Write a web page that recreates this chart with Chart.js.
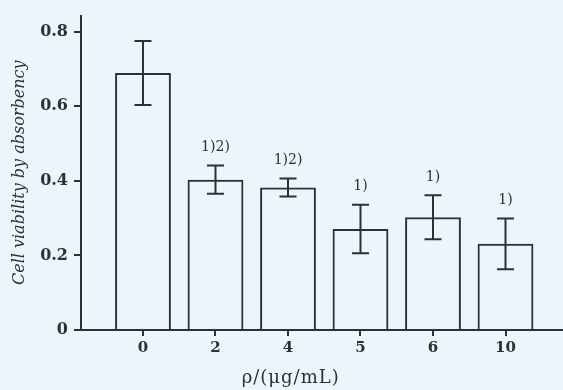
<!DOCTYPE html>
<html>
<head>
<meta charset="utf-8">
<script src="https://cdn.jsdelivr.net/npm/chart.js@4/dist/chart.umd.min.js"></script>
<style>
html,body{margin:0;padding:0;background:#edf5fa;}
#wrap{width:563px;height:390px;}
</style>
</head>
<body>
<div id="wrap"><canvas id="c" width="563" height="390"></canvas></div>
<script>
const categories = ["0", "2", "4", "5", "6", "10"];
const viability = [0.689, 0.403, 0.382, 0.271, 0.302, 0.231];
const errorSD = [0.086, 0.038, 0.024, 0.065, 0.059, 0.068];
const sigLabels = ["", "1)2)", "1)2)", "1)", "1)", "1)"];
const yTicks = [0, 0.2, 0.4, 0.6, 0.8];
const yTitle = "Cell viability by absorbency";
const xTitle = "ρ/(μg/mL)";

const ink = "#27323b";
const serif = "'DejaVu Serif', 'Liberation Serif', serif";

const bgPlugin = {
  id: 'bg',
  beforeDraw(chart) {
    const ctx = chart.ctx;
    ctx.save();
    ctx.fillStyle = '#edf5fa';
    ctx.fillRect(0, 0, chart.width, chart.height);
    ctx.restore();
  }
};

const errPlugin = {
  id: 'err',
  afterDatasetsDraw(chart) {
    const ctx = chart.ctx;
    const xs = chart.scales.x, ys = chart.scales.y;
    ctx.save();
    ctx.strokeStyle = ink;
    ctx.lineWidth = 2;
    ctx.fillStyle = ink;
    ctx.textAlign = 'center';
    ctx.textBaseline = 'middle';
    ctx.font = "14px " + serif;
    viability.forEach((v, i) => {
      const x = xs.getPixelForValue(i);
      const yHi = ys.getPixelForValue(v + errorSD[i]);
      const yLo = ys.getPixelForValue(v - errorSD[i]);
      ctx.beginPath();
      ctx.moveTo(x, yHi); ctx.lineTo(x, yLo);
      ctx.moveTo(x - 8.5, yHi); ctx.lineTo(x + 8.5, yHi);
      ctx.moveTo(x - 8.5, yLo); ctx.lineTo(x + 8.5, yLo);
      ctx.stroke();
      if (sigLabels[i]) ctx.fillText(sigLabels[i], x, yHi - 18);
    });
    // x axis title
    ctx.font = "18px " + serif;
    try { ctx.letterSpacing = '1px'; } catch (e) {}
    ctx.fillText(xTitle, chart.chartArea.left + (chart.chartArea.right - chart.chartArea.left) * 0.435, 378);
    ctx.restore();
  }
};

new Chart(document.getElementById('c'), {
  type: 'bar',
  data: {
    datasets: [{
      data: categories.map((c, i) => ({x: i, y: viability[i]})),
      backgroundColor: 'rgba(255,255,255,0.08)',
      borderColor: ink,
      borderWidth: 2,
      borderSkipped: 'start',
      barPercentage: 0.77,
      categoryPercentage: 1.0
    }]
  },
  options: {
    responsive: false,
    animation: false,
    layout: {padding: {top: 12, right: 0, bottom: 0, left: 0}},
    plugins: {legend: {display: false}, tooltip: {enabled: false}},
    scales: {
      x: {
        type: 'linear',
        offset: false,
        min: -0.855,
        max: 5.793,
        afterBuildTicks: s => { s.ticks = categories.map((c, i) => ({value: i})); },
        afterFit: s => { s.height = 60; },
        ticks: {
          callback: v => categories[v],
          color: ink,
          font: {family: serif, size: 15, weight: 'bold'},
          padding: 3,
          maxRotation: 0
        },
        grid: {offset: false, drawOnChartArea: false, drawTicks: true, tickLength: 6, color: ink, lineWidth: 2},
        border: {display: true, color: ink, width: 2}
      },
      y: {
        min: 0,
        max: 0.843,
        afterBuildTicks: s => { s.ticks = yTicks.map(v => ({value: v})); },
        afterFit: s => { s.width = 81; },
        ticks: {
          callback: v => String(v),
          color: ink,
          font: {family: serif, size: 16, weight: 'bold'},
          padding: 6
        },
        grid: {drawOnChartArea: false, drawTicks: true, tickLength: 7, color: ink, lineWidth: 2},
        border: {display: true, color: ink, width: 2},
        title: {
          display: true,
          text: yTitle,
          color: ink,
          font: {family: serif, size: 16, style: 'italic'},
          padding: {top: 10, bottom: 0}
        }
      }
    }
  },
  plugins: [bgPlugin, errPlugin]
});
</script>
</body>
</html>
